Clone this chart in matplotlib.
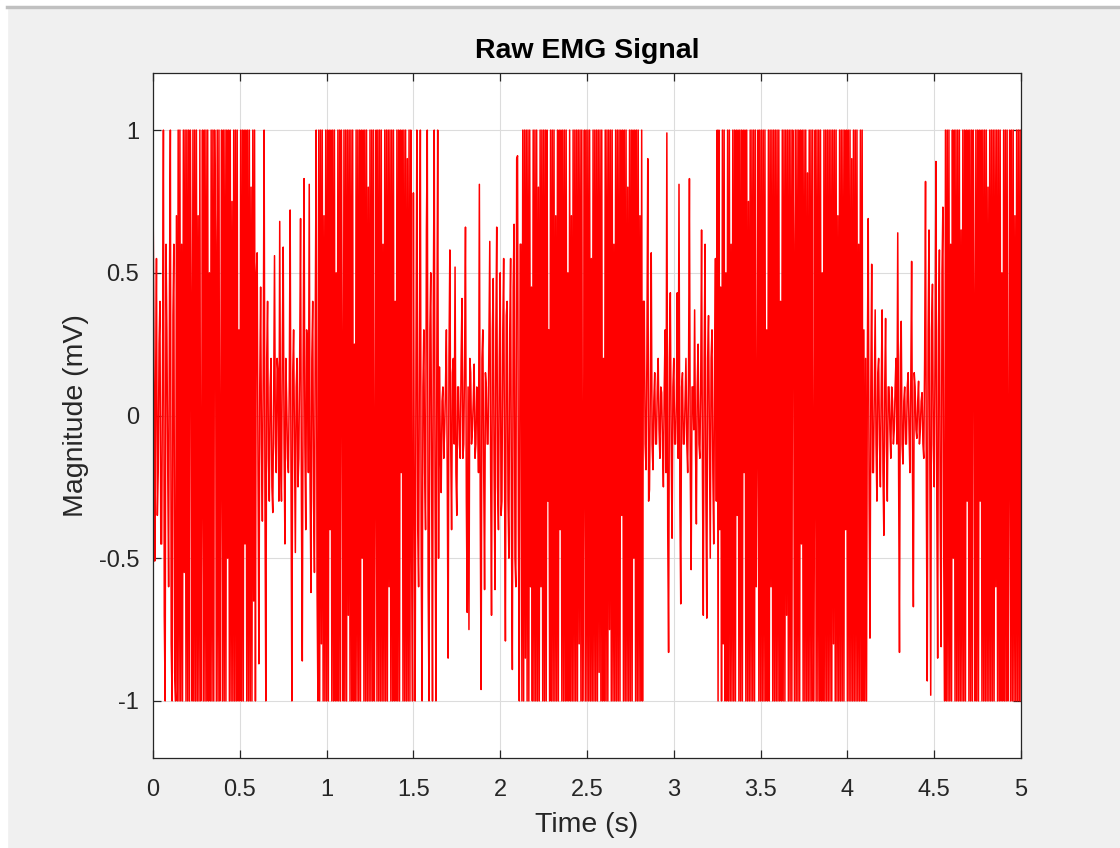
import numpy as np
import matplotlib
matplotlib.use('Agg')
import matplotlib.pyplot as plt

# EMG samples in mV (5 ms per sample, clipped at +/-1 mV)
onset = [.79, .3, -.51, .1, .55, -.35, -.2, .25, .4, -.45,
         -.45, .2, 1, -.7, -1, .6, .3, -.2, -.6, .45,
         1, -.8, -1, .35, .6, -.9, -1, .7]

burst1 = [-1, 1, -1, 1, -1, .6, -1, 1, -.55, 1,
          -1, 1, -1, 1, -1, 1, .4, -1, 1, -1,
          1, -1, 1, -1, .7, -1, 1, -1, -.3, 1,
          -1, 1, -1, 1, -1, 1, -1, .5, -1, 1,
          -1, 1, -1, 1, .6, -1, 1, -1, 1, -1,
          -.2, 1, -1, 1, -1, 1, -1, 1, -.5, 1,
          -1, 1, -1, .75, -1, 1, -1, 1, -1, 1,
          -1, .3, -1, 1, -1, 1, -1, 1, -.45, 1,
          -1, 1, -1, 1, -1, .8, -1, 1, -.65, 1,
          -1, .5]

quiet1 = [.57, -.2, -.87, .1, .45, -.1, -.37, .15, 1, -.3, -1, .2, .4, -.15, -.3, .1, .2, -.25, -.34, .05,
          .56, -.1, -.2, .2, .15, -.3, .68, -.15, -.3, .25, .59, -.1, -.45, .2, .05, -.15, -.2, .1, .72, -.2,
          -1, .15, .3, -.1, -.48, .1, .2, -.25, -.15, .2, .69, -.3, -.86, .2, .83, -.1, -.4, .3, .25, -.2,
          .81, -.25, -.62, .2, .4, -.3, -.55, .35, 1, -.6]

burst2 = [-1, 1, -1, 1, -.8, 1, -1, .7, -1, 1,
          -1, 1, -1, 1, -.4, 1, -1, 1, -1, 1,
          -1, .5, -1, 1, -1, 1, -1, 1, .2, -1,
          1, -1, 1, -1, 1, -.7, 1, -1, 1, -1,
          1, -1, .25, -1, 1, -1, 1, -1, 1, -1,
          1, -.5, 1, -1, 1, -1, 1, -1, .8, -1,
          1, -1, 1, -1, 1, -1, -.3, 1, -1, 1,
          -1, 1, -1, 1, -1, .6, -1, 1, -1, 1,
          -1, 1, -.6, 1, -1, 1, -1, 1, -1, .4,
          -1, 1, -1, 1, -1, 1, -.2, 1, -1, 1,
          -1, 1, -1, .9, -1, 1, -1, 1, -.5, -1,
          .78, -.3, -1, .2, 1, -.4, -.6, .3, 1, -.5,
          -1, .1, .3, -.2, -.4, .65, 1, -.6, -1, .3,
          .5, -.2, -1, .4, 1, -.3, -1, .2, 1, -.5]

quiet2 = [.17, -.1, -.27, .05, .1, -.15, -.05, .1, .3, -.2, -.85, .2, .58, -.1, -.4, .15, .2, -.1, .52, -.2,
          -.35, .1, .1, -.1, -.15, .2, .41, -.15, -.1, .2, .66, -.3, -.69, .1, -.75, .2, .15, -.1, -.05, .05,
          .18, -.15, -.1, .1, .05, -.2, .81, -.3, -.96, .2, .3, -.2, -.61, .15, .1, -.1, -.1, .25, .61, -.2,
          -.7, .3, .48, -.2, -.61, .3, .66, -.25, -.4, .2, .5, -.35, -.3, .3, .55, -.2, -.79, .35, .4, -.3,
          -.5, .3, .55, -.4, -.89, .45, .67, -.5, -.6, .9]

burst3 = [.91, -.4, -1, .6, .6, -1, 1, -1, 1, -.85,
          1, -1, 1, -1, 1, -.6, .45, -1, 1, -1,
          1, -1, 1, -1, .8, -1, 1, -.6, 1, -1,
          1, -1, 1, -1, 1, -.3, .3, -1, 1, -1,
          1, -1, 1, -1, .7, -1, 1, -1, 1, -.4,
          1, -1, 1, -1, 1, -1, 1, -1, .5, -1,
          1, -1, .7, -1, 1, -1, 1, -1, 1, -1,
          1, -.8, 1, -1, 1, -1, -.25, 1, -1, 1,
          -1, 1, -1, 1, -1, .55, -1, 1, -1, 1,
          -1, 1, -1, 1, -.9, 1, -1, 1, -1, .2,
          -1, 1, -1, 1, -1, 1, -.75, 1, -1, 1,
          -1, .6, -1, 1, -1, 1, -1, 1, -1, 1,
          -.35, 1, -1, 1, -1, 1, -1, .8, -1, 1,
          -1, 1, -1, 1, -.5, 1, -1, 1, -1, 1,
          -1, .7, -1, 1, -1, .4]

quiet3 = [.4, -.1, -.19, .2, .9, -.3, -.26, .1, .57, -.1, -.19, .05, .15, -.1, -.1, .1, .2, -.05, -.15, .1,
          .08, -.1, -.25, .1, .3, -.2, .99, -.4, -.83, .2, .43, -.1, -.43, .1, .2, -.1, -.1, .05, .43, -.15,
          .81, -.3, -.66, .1, .15, -.1, -.1, .05, .2, -.1, -.2, .15, .83, -.2, -.54, .1, .1, -.05, .37, -.1,
          -.38, .1, .25, -.1, -.15, .1, .65, -.2, -.7, .2, .6, -.3, -.71, .2, .35, -.1, -.5, .2, .3, -.2,
          -.45, .2, .55, -.3]

burst4 = [1, -1, 1, -.4, .45, -1, 1, -.8, 1, -1,
          .5, -1, 1, -1, 1, -1, .6, -1, 1, -1,
          1, -1, 1, -.35, 1, -1, 1, -1, 1, -1,
          1, -.2, 1, -1, 1, -1, .75, -1, 1, -1,
          1, -1, 1, -1, 1, -.6, -.1, 1, -1, 1,
          -1, 1, -1, 1, -1, 1, -1, .3, -1, 1,
          -1, 1, -.6, 1, -1, 1, -1, 1, -1, 1,
          -1, 1, -1, .4, -1, 1, -1, 1, -1, 1,
          -.7, 1, -1, 1, -1, 1, -1, 1, .6, -1,
          1, -1, 1, -1, 1, -1, 1, -.45, 1, -1,
          1, -1, 1, -1, .85, -1, 1, -1, 1, -1,
          1, -1, -.3, 1, -1, 1, -1, 1, -1, 1,
          -1, .5, -1, 1, -1, 1, -1, 1, -1, 1,
          -1, 1, -1, 1, -.8, 1, -1, 1, -1, .7,
          -1, 1, -1, 1, -1, 1, -1, 1, -.4, 1,
          -1, 1, -1, 1, -1, .9, -1, 1, -1, 1,
          -1, 1, -1, .6, -1, 1, -1, 1, -1, .3,
          -1, .2]

quiet4 = [-1, .2, .69, -.3, -.78, .1, .53, -.2, -.2, .1, .37, -.1, -.3, .15, .2, -.1, -.25, .1, .37, -.2,
          -.42, .1, .34, -.1, -.3, .1, .1, -.05, -.15, .1, .05, -.1, -.05, .1, .2, -.1, .64, -.2, -.83, .2,
          .33, -.1, -.17, .05, .1, -.1, -.1, .1, .15, -.05, -.2, .1, .54, -.2, -.67, .15, .1, -.05, -.08, .05,
          .12, -.1, -.05, .05, .08, -.1, -.15, .2, .82, -.3, -.93, .3, .65, -.2, -.98, .3, .46, -.1, -.25, .2,
          .89, -.3, -.85, .3, .58, -.4, -.81, .5]

burst5 = [.73, -.5, -1, 1, -1, 1, -1, 1, -1, .6,
          -1, 1, -.5, 1, -1, 1, -1, 1, -1, 1,
          -1, .65, -1, 1, -1, 1, -1, 1, -.3, 1,
          -1, 1, -1, 1, -1, 1, .4, -1, 1, -1,
          1, -1, 1, -.3, 1, -1, 1, -1, 1, -1,
          1, -1, .8, -1, 1, -1, 1, -1, 1, -1,
          1, -.6, 1, -1, 1, -1, 1, -1, .5, -1,
          1, -1, 1, -1, 1, -1, -.2, 1, -1, 1,
          -1, 1, -1, .7, -1, 1, -1, 1, -1, 1,
          -1]

duration = 5.0

emg = np.array(onset + burst1 + quiet1 + burst2 + quiet2 + burst3 +
               quiet3 + burst4 + quiet4 + burst5)
t = np.linspace(0, duration, len(emg))

plt.rcParams['font.family'] = ['Liberation Sans', 'DejaVu Sans']

fig = plt.figure(figsize=(11.2, 8.48), dpi=100)
fig.patch.set_facecolor('#f0f0f0')

# window chrome: white strip on top/left with a thin gray rule
fig.patches.append(plt.Rectangle((0, 0.9905), 1, 0.0095, transform=fig.transFigure,
                                 color='white', zorder=0))
fig.patches.append(plt.Rectangle((0, 0), 0.006, 1, transform=fig.transFigure,
                                 color='white', zorder=0))
fig.add_artist(plt.Line2D([0.006, 1], [0.9915, 0.9915], transform=fig.transFigure,
                          color='#c0c0c0', lw=2.5))

ax = fig.add_axes([153 / 1120, 1 - 758 / 848, 868 / 1120, 685 / 848])
ax.plot(t, emg, color='#ff0000', lw=1.1)

ax.set_xlim(0, 5)
ax.set_ylim(-1.2, 1.2)
ax.set_xticks(np.arange(0, 5.01, 0.5))
ax.set_xticklabels(['0', '0.5', '1', '1.5', '2', '2.5', '3', '3.5', '4', '4.5', '5'])
ax.set_yticks([-1, -0.5, 0, 0.5, 1])
ax.set_yticklabels(['-1', '-0.5', '0', '0.5', '1'])

ax.grid(True, color='#dcdcdc', lw=0.8)
ax.set_axisbelow(True)
ax.tick_params(direction='in', length=6, width=0.9, colors='#262626',
               labelsize=17, top=True, right=True)
ax.tick_params(axis='x', pad=15)
ax.tick_params(axis='y', pad=10)
for s in ax.spines.values():
    s.set_color('#262626')
    s.set_linewidth(0.9)

ax.set_title('Raw EMG Signal', fontsize=20.5, fontweight='bold', pad=11)
ax.set_xlabel('Time (s)', fontsize=20.5, color='#262626', labelpad=8)
ax.set_ylabel('Magnitude (mV)', fontsize=20.5, color='#262626', labelpad=7)

plt.savefig('out.png', dpi=100, facecolor=fig.get_facecolor())
plt.close()
